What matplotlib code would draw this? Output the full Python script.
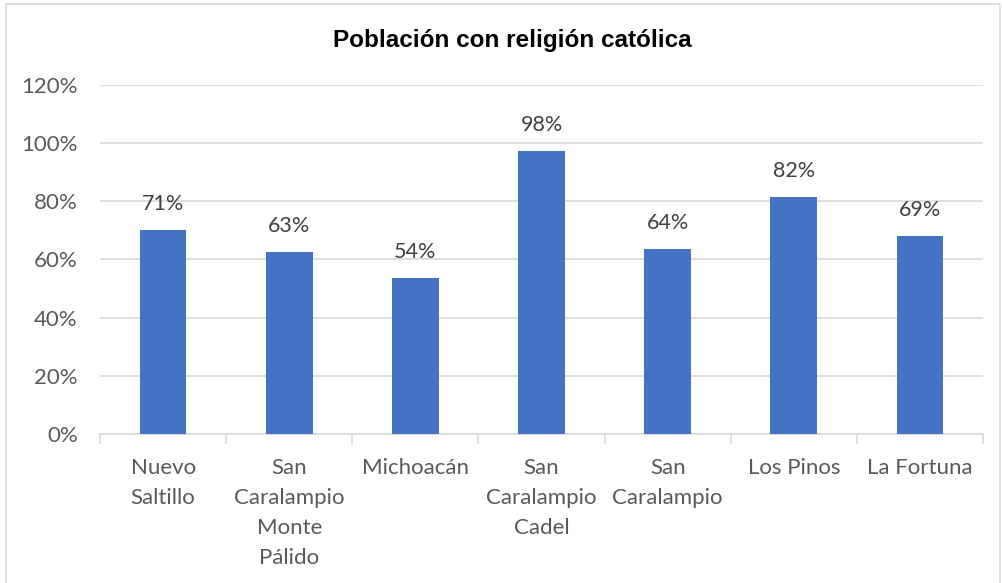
#!/usr/bin/env python3

import matplotlib.pyplot as plt
from matplotlib.patches import Rectangle
from matplotlib.ticker import FixedLocator, FuncFormatter, MultipleLocator


CATEGORIES = [
    "Nuevo\nSaltillo",
    "San\nCaralampio\nMonte\nPálido",
    "Michoacán",
    "San\nCaralampio\nCadel",
    "San\nCaralampio",
    "Los Pinos",
    "La Fortuna",
]
# bar heights; data labels as printed on the chart
VALUES = [0.700, 0.627, 0.537, 0.973, 0.635, 0.815, 0.680]
VALUE_LABELS = ["71%", "63%", "54%", "98%", "64%", "82%", "69%"]

TITLE = "Población con religión católica"
BAR_COLOR = "#4472C4"
TEXT_COLOR = "#595959"
GRID_COLOR = "#D9D9D9"
FIGURE_WIDTH_PX = 1002
FIGURE_HEIGHT_PX = 583
FIGURE_DPI = 100


def main() -> int:
    fig = plt.figure(
        figsize=(FIGURE_WIDTH_PX / FIGURE_DPI, FIGURE_HEIGHT_PX / FIGURE_DPI),
        dpi=FIGURE_DPI,
    )
    # axes box in pixels: x 100..983, y 85..434 (from top)
    ax = fig.add_axes([
        100 / FIGURE_WIDTH_PX,
        1 - 434 / FIGURE_HEIGHT_PX,
        883 / FIGURE_WIDTH_PX,
        349 / FIGURE_HEIGHT_PX,
    ])

    label_font = ["Lato", "DejaVu Sans"]
    positions = list(range(len(CATEGORIES)))
    ax.bar(positions, VALUES, width=0.37, color=BAR_COLOR, zorder=3)

    for x, v, text in zip(positions, VALUES, VALUE_LABELS):
        ax.annotate(
            text,
            (x, v),
            xytext=(0, 28),
            textcoords="offset pixels",
            ha="center",
            va="center_baseline",
            fontsize=15.5,
            color="#404040",
            family=label_font,
        )

    ax.set_xlim(-0.5, len(CATEGORIES) - 0.5)
    ax.set_ylim(0, 1.2)
    ax.yaxis.set_major_locator(MultipleLocator(0.2))
    ax.yaxis.set_major_formatter(FuncFormatter(lambda v, _: f"{round(v * 100):d}%"))
    ax.grid(axis="y", color=GRID_COLOR, linewidth=1.2, zorder=0)

    ax.set_xticks(positions)
    ax.set_xticklabels(CATEGORIES, family=label_font, fontsize=16,
                       color=TEXT_COLOR, linespacing=1.63)
    ax.xaxis.set_minor_locator(FixedLocator([p - 0.5 for p in positions] + [len(CATEGORIES) - 0.5]))
    ax.tick_params(axis="x", which="major", length=0, pad=17)
    ax.tick_params(axis="x", which="minor", length=7, color=GRID_COLOR, width=1.2)
    ax.tick_params(axis="y", length=0, pad=16, labelsize=16, labelcolor=TEXT_COLOR)
    for label in ax.get_yticklabels():
        label.set_family(label_font)

    for side in ("top", "right", "left"):
        ax.spines[side].set_visible(False)
    ax.spines["bottom"].set_color(GRID_COLOR)
    ax.spines["bottom"].set_linewidth(1.2)

    fig.text(512 / FIGURE_WIDTH_PX, 1 - 41 / FIGURE_HEIGHT_PX, TITLE,
             ha="center", va="center", fontsize=17.5, fontweight="bold",
             family="Liberation Sans", color="black")

    # outer chart border
    fig.patches.append(Rectangle(
        (6 / FIGURE_WIDTH_PX, -0.01),
        (FIGURE_WIDTH_PX - 8) / FIGURE_WIDTH_PX,
        1 - 4 / FIGURE_HEIGHT_PX + 0.01,
        transform=fig.transFigure, fill=False, edgecolor=GRID_COLOR, linewidth=1.2,
    ))

    fig.savefig("out.png", dpi=FIGURE_DPI)
    return 0


if __name__ == "__main__":
    raise SystemExit(main())
